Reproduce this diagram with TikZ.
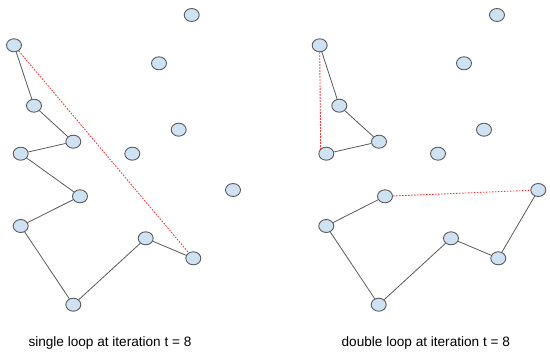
\documentclass[tikz,border=0pt]{standalone}
\usepackage{fontspec}
\setmainfont{Liberation Sans}
\usetikzlibrary{shapes.geometric}
\definecolor{nodefill}{HTML}{CFE2F3}
\definecolor{nodeline}{HTML}{595959}
\definecolor{edgeline}{HTML}{595959}
\definecolor{loopred}{HTML}{FF3333}
\tikzset{
  pt/.style={ellipse, draw=nodeline, fill=nodefill, line width=0.9pt, minimum width=15pt, minimum height=13pt, inner sep=0pt},
  edge/.style={draw=edgeline, line width=0.8pt},
  redge/.style={draw=loopred, line width=0.9pt, dash pattern=on 1.6pt off 1.4pt},
  captext/.style={font=\fontsize{13.6}{16}\selectfont, text=black, inner sep=0pt}
}
\begin{document}
\begin{tikzpicture}[x=1pt,y=-1pt]
\useasboundingbox (0,0) rectangle (550,353);
% left panel
\node[pt] (A1) at (191.7,15) {};
\node[pt] (B1) at (14,45.3) {};
\node[pt] (C1) at (159,63.3) {};
\node[pt] (D1) at (34,105.7) {};
\node[pt] (E1) at (178.7,129.7) {};
\node[pt] (F1) at (73.3,141.7) {};
\node[pt] (G1) at (20.7,153.7) {};
\node[pt] (H1) at (132.3,153.7) {};
\node[pt] (I1) at (233,190) {};
\node[pt] (J1) at (80,196.3) {};
\node[pt] (K1) at (20.7,226) {};
\node[pt] (L1) at (145.7,238.3) {};
\node[pt] (M1) at (193.3,258.3) {};
\node[pt] (N1) at (73.3,304.7) {};
\draw[edge] (B1) -- (D1) -- (F1) -- (G1) -- (J1) -- (K1) -- (N1) -- (L1) -- (M1);
\draw[redge] (B1) -- (M1);
\node[captext] (T1) at (110,342.5) {single loop at iteration t = 8};
% right panel
\node[pt] (A2) at (497,15) {};
\node[pt] (B2) at (319.7,45.3) {};
\node[pt] (C2) at (464,63.3) {};
\node[pt] (D2) at (339.3,105.7) {};
\node[pt] (E2) at (484,129.7) {};
\node[pt] (F2) at (379,141.7) {};
\node[pt] (G2) at (326.3,153.7) {};
\node[pt] (H2) at (438,153.7) {};
\node[pt] (I2) at (538.3,190) {};
\node[pt] (J2) at (385,196.3) {};
\node[pt] (K2) at (326.3,226) {};
\node[pt] (L2) at (451,238.3) {};
\node[pt] (M2) at (498.3,258.3) {};
\node[pt] (N2) at (378.7,304.7) {};
\draw[edge] (B2) -- (D2) -- (F2) -- (G2);
\draw[redge] (B2.south) -- (G2.north west);
\draw[edge] (J2) -- (K2) -- (N2) -- (L2) -- (M2) -- (I2);
\draw[redge] (J2) -- (I2);
\node[captext] (T2) at (425.8,342.5) {double loop at iteration t = 8};
\end{tikzpicture}
\end{document}
